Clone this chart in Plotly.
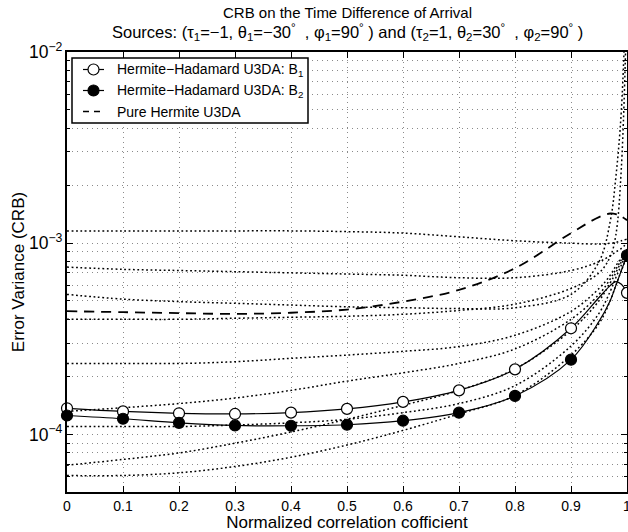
import plotly.graph_objects as go

# ---------------- data ----------------
rho = [0, 0.1, 0.2, 0.3, 0.4, 0.5, 0.6, 0.7, 0.8, 0.9, 0.95, 0.97, 0.98, 0.99, 1.0]

hh_b1 = [1.37e-4, 1.32e-4, 1.29e-4, 1.28e-4, 1.30e-4, 1.36e-4, 1.48e-4, 1.70e-4,
         2.19e-4, 3.59e-4, 5.2e-4, 6.0e-4, 6.3e-4, 6.1e-4, 5.5e-4]
hh_b2 = [1.256e-4, 1.208e-4, 1.15e-4, 1.114e-4, 1.11e-4, 1.124e-4, 1.18e-4, 1.30e-4,
         1.59e-4, 2.46e-4, 3.9e-4, 5.0e-4, 6.0e-4, 7.2e-4, 8.65e-4]
pure_hermite = [4.41e-4, 4.36e-4, 4.31e-4, 4.27e-4, 4.33e-4, 4.5e-4, 4.95e-4, 5.7e-4,
                7.4e-4, 1.13e-3, 1.37e-3, 1.43e-3, 1.42e-3, 1.38e-3, 1.32e-3]

other_b = [
    [1.16e-3, 1.16e-3, 1.16e-3, 1.16e-3, 1.16e-3, 1.15e-3, 1.13e-3, 1.08e-3,
     1.03e-3, 1.0e-3, 9.9e-4, 1.0e-3, 1.01e-3, 1.03e-3, 1.05e-3],
    [7.5e-4, 7.3e-4, 7.2e-4, 7.1e-4, 7.0e-4, 6.9e-4, 6.8e-4, 6.6e-4,
     6.6e-4, 7.2e-4, 8.0e-4, 8.6e-4, 9.0e-4, 9.4e-4, 1.0e-3],
    [5.4e-4, 5.1e-4, 4.95e-4, 4.85e-4, 4.75e-4, 4.65e-4, 4.6e-4, 4.55e-4,
     4.6e-4, 5.4e-4, 8.0e-4, 1.3e-3, 2.2e-3, 5e-3, 3e-2],
    [4.0e-4, 4.0e-4, 4.0e-4, 4.05e-4, 4.1e-4, 4.15e-4, 4.25e-4, 4.45e-4,
     4.8e-4, 5.8e-4, 7.0e-4, 8.5e-4, 1.1e-3, 2.5e-3, 2e-2],
    [2.35e-4, 2.35e-4, 2.35e-4, 2.4e-4, 2.5e-4, 2.6e-4, 2.72e-4, 2.88e-4,
     3.3e-4, 4.4e-4, 5.8e-4, 6.8e-4, 7.6e-4, 8.4e-4, 9.3e-4],
    [1.32e-4, 1.38e-4, 1.45e-4, 1.55e-4, 1.7e-4, 1.9e-4, 2.1e-4, 2.35e-4,
     2.8e-4, 4.0e-4, 5.4e-4, 6.5e-4, 7.3e-4, 8.2e-4, 9.2e-4],
    [1.1e-4, 1.1e-4, 1.1e-4, 1.12e-4, 1.15e-4, 1.2e-4, 1.3e-4, 1.45e-4,
     1.8e-4, 2.9e-4, 4.3e-4, 5.6e-4, 6.6e-4, 7.7e-4, 9.0e-4],
    [6.9e-5, 7.4e-5, 8.0e-5, 9.0e-5, 1.03e-4, 1.2e-4, 1.42e-4, 1.7e-4,
     2.2e-4, 3.5e-4, 5.0e-4, 6.2e-4, 7.0e-4, 8.0e-4, 8.8e-4],
    [6.1e-5, 6.1e-5, 6.3e-5, 6.8e-5, 7.6e-5, 8.8e-5, 1.05e-4, 1.28e-4,
     1.6e-4, 2.6e-4, 3.8e-4, 5.0e-4, 6.0e-4, 7.2e-4, 8.5e-4],
]

legend_names = ["Hermite\u2212Hadamard U3DA: B<sub>1</sub>",
                "Hermite\u2212Hadamard U3DA: B<sub>2</sub>",
                "Pure Hermite U3DA"]
x_ticks = [0, 0.1, 0.2, 0.3, 0.4, 0.5, 0.6, 0.7, 0.8, 0.9, 1]
title_line1 = "CRB on the Time Difference of Arrival"
title_line2 = ("Sources: (\u03c4<sub>1</sub>=\u22121, \u03b8<sub>1</sub>=\u221230<sup>\u00b0</sup>\u00a0 , "
               "\u03c6<sub>1</sub>=90<sup>\u00b0</sup>\u00a0) and (\u03c4<sub>2</sub>=1, "
               "\u03b8<sub>2</sub>=30<sup>\u00b0</sup>\u00a0 , \u03c6<sub>2</sub>=90<sup>\u00b0</sup>\u00a0)")
x_label = "Normalized correlation cofficient"
y_label = "Error Variance (CRB)"

# ---------------- layout geometry (pixels) ----------------
W, H = 628, 532
L, R, T, B = 67, 1, 52, 40
PW, PH = W - L - R, H - T - B

def px(xp):
    return (xp - L) / PW

def py(yp):
    return 1 - (yp - T) / PH

FONT = "Liberation Sans, Arial, Helvetica, sans-serif"
fig = go.Figure()

for series in other_b:
    fig.add_trace(go.Scatter(x=rho, y=series, mode="lines", line_shape="spline",
                             line=dict(color="black", width=1.5, dash="1.8px,2.6px"),
                             showlegend=False, hoverinfo="skip"))

mask = [abs(round(v * 10) - v * 10) < 1e-9 for v in rho]

def marks(vals):
    return [r for r, m in zip(rho, mask) if m], [v for v, m in zip(vals, mask) if m]

fig.add_trace(go.Scatter(x=rho, y=pure_hermite, mode="lines", line_shape="spline",
                         line=dict(color="black", width=1.8, dash="10px,7px"),
                         showlegend=False))
for vals, fill in ((hh_b1, "white"), (hh_b2, "black")):
    fig.add_trace(go.Scatter(x=rho, y=vals, mode="lines", line_shape="spline",
                             line=dict(color="black", width=1.2), showlegend=False))
    mx, my = marks(vals)
    fig.add_trace(go.Scatter(x=mx, y=my, mode="markers", cliponaxis=False, showlegend=False,
                             marker=dict(symbol="circle", size=11, color=fill,
                                         line=dict(color="black", width=1.2))))

axis_common = dict(showline=True, linecolor="black", linewidth=1.5, mirror="ticks",
                   ticks="inside", ticklen=6, tickcolor="black", tickwidth=1,
                   showgrid=True, gridcolor="#8a8a8a", gridwidth=1, griddash="1px,4px",
                   zeroline=False, ticklabeloverflow="allow",
                   tickfont=dict(family=FONT, size=14, color="black"))

fig.update_xaxes(range=[0, 1], tickvals=x_ticks, **axis_common,
                 title=dict(text=x_label, font=dict(family=FONT, size=17, color="black"),
                            standoff=2))
fig.update_yaxes(type="log", range=[-4.30103, -2], dtick=1, exponentformat="power",
                 **axis_common,
                 minor=dict(dtick="D1", ticks="inside", ticklen=3, tickcolor="black",
                            showgrid=True, gridcolor="#8a8a8a", gridwidth=1,
                            griddash="1px,4px"),
                 title=dict(text=y_label, font=dict(family=FONT, size=17, color="black"),
                            standoff=0))

# ---------- manual legend (MATLAB style) ----------
shapes = []
annotations = []
box = dict(x0=72, x1=308, y0=58, y1=123)
shapes.append(dict(type="rect", xref="paper", yref="paper", layer="above",
                   x0=px(box["x0"]), x1=px(box["x1"]), y0=py(box["y1"]), y1=py(box["y0"]),
                   line=dict(color="black", width=1.5), fillcolor="white"))
rows = [69.5, 90.5, 111.5]
styles = [("white", "solid"), ("black", "solid"), (None, "6px,5px")]
for yrow, name, (fill, dash) in zip(rows, legend_names, styles):
    shapes.append(dict(type="line", xref="paper", yref="paper", layer="above",
                       x0=px(83), x1=px(104), y0=py(yrow), y1=py(yrow),
                       line=dict(color="black", width=1.2 if fill else 1.6, dash=dash)))
    if fill:
        shapes.append(dict(type="circle", xref="paper", yref="paper", layer="above",
                           xsizemode="pixel", ysizemode="pixel",
                           xanchor=px(93.5), yanchor=py(yrow),
                           x0=-5.5, x1=5.5, y0=-5.5, y1=5.5,
                           fillcolor=fill, line=dict(color="black", width=1.2)))
    annotations.append(dict(text=name, xref="paper", yref="paper", x=px(115), y=py(yrow),
                            xanchor="left", yanchor="middle", showarrow=False,
                            font=dict(family=FONT, size=14, color="black")))

# ---------- title ----------
annotations.append(dict(text=title_line1, xref="paper", yref="paper", x=0.5, y=py(12),
                        xanchor="center", yanchor="middle", showarrow=False,
                        font=dict(family=FONT, size=15, color="black")))
annotations.append(dict(text=title_line2, xref="paper", yref="paper", x=0.5, y=py(32),
                        xanchor="center", yanchor="middle", showarrow=False,
                        font=dict(family=FONT, size=16.5, color="black")))

fig.update_layout(
    width=W, height=H,
    margin=dict(l=L, r=R, t=T, b=B, autoexpand=False),
    paper_bgcolor="white", plot_bgcolor="white",
    font=dict(family=FONT, color="black"),
    showlegend=False,
    shapes=shapes,
    annotations=annotations,
)

fig.write_html("out.html", config={"displayModeBar": False},
               post_script="document.body.style.margin='0';document.body.style.overflow='hidden';")
